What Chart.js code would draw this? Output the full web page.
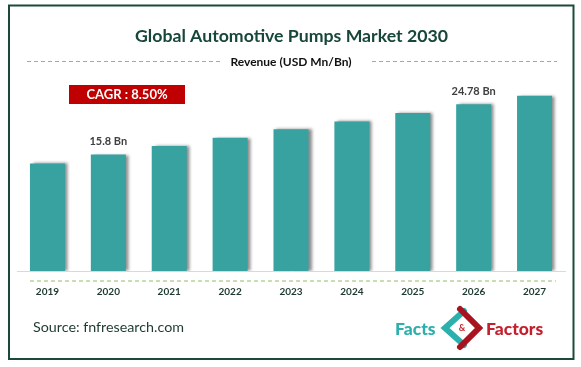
<!DOCTYPE html>
<html>
<head>
<meta charset="utf-8">
<script src="https://cdn.jsdelivr.net/npm/chart.js@4"></script>
<style>
  html, body { margin: 0; padding: 0; background: #fff; }
  #wrap { width: 581px; height: 367px; }
</style>
</head>
<body>
<div id="wrap"><canvas id="chart" width="581" height="367"></canvas></div>
<script>
// datos
const years = ['2019', '2020', '2021', '2022', '2023', '2024', '2025', '2026', '2027'];
const revenue = [14.2, 15.8, 17.3, 18.8, 20.3, 21.7, 23.2, 24.78, 26.3];
const barLabels = ['', '15.8 Bn', '', '', '', '', '', '24.78 Bn', ''];
const title = 'Global Automotive Pumps Market 2030';
const subtitle = 'Revenue (USD Mn/Bn)';
const cagrText = 'CAGR : 8.50%';
const sourceText = 'Source: fnfresearch.com';

const FONT = 'Lato, "Open Sans", sans-serif';
const DARK = '#17463a';
const Y_MIN = -5;

function dashed(ctx, x1, x2, y) {
    ctx.save();
    ctx.strokeStyle = '#8cc06a';
    ctx.lineWidth = 1;
    ctx.setLineDash([4, 3]);
    ctx.beginPath();
    ctx.moveTo(x1, y);
    ctx.lineTo(x2, y);
    ctx.stroke();
    ctx.restore();
}

/* sombra gris a la derecha de cada barra */
const shadowPlugin = {
    id: 'barShadow',
    beforeDatasetsDraw(chart) {
        const ctx = chart.ctx;
        ctx.save();
        ctx.shadowColor = 'rgba(0,0,0,0.45)';
        ctx.shadowOffsetX = 3;
        ctx.shadowOffsetY = 0;
        ctx.shadowBlur = 3;
    },
    afterDatasetsDraw(chart) {
        chart.ctx.restore();
    }
};

/* textos, marco y logo */
const decorPlugin = {
    id: 'decor',
    afterDraw(chart) {
        const ctx = chart.ctx;
        const meta = chart.getDatasetMeta(0);

        // etiquetas de las barras
        ctx.save();
        ctx.fillStyle = '#404040';
        ctx.font = 'bold 11px ' + FONT;
        ctx.textAlign = 'center';
        ctx.textBaseline = 'middle';
        meta.data.forEach((bar, i) => {
            if (barLabels[i]) ctx.fillText(barLabels[i], bar.x, bar.y - 13);
        });
        ctx.restore();

        // marco
        ctx.save();
        ctx.strokeStyle = '#1b4a3a';
        ctx.lineWidth = 2;
        ctx.strokeRect(9, 5.5, 564.5, 353.5);
        ctx.restore();

        // titulo y subtitulo
        ctx.save();
        ctx.textAlign = 'center';
        ctx.textBaseline = 'middle';
        ctx.fillStyle = DARK;
        ctx.font = 'bold 17.7px ' + FONT;
        ctx.fillText(title, 291.5, 36);
        ctx.fillStyle = '#111';
        ctx.font = 'bold 12px ' + FONT;
        ctx.fillText(subtitle, 291, 62);
        ctx.restore();
        dashed(ctx, 27, 220, 61.5);
        dashed(ctx, 372, 557, 61.5);

        // linea verde bajo el eje
        dashed(ctx, chart.chartArea.left + 13, chart.chartArea.right - 9, chart.chartArea.bottom + 10);

        // CAGR
        ctx.save();
        ctx.fillStyle = '#c00000';
        ctx.fillRect(69, 85, 116, 19);
        ctx.fillStyle = '#fff';
        ctx.font = 'bold 13px ' + FONT;
        ctx.textAlign = 'center';
        ctx.textBaseline = 'middle';
        ctx.fillText(cagrText, 127, 95);
        ctx.restore();

        // fuente
        ctx.save();
        ctx.fillStyle = '#1e3a30';
        ctx.font = '14.3px ' + FONT;
        ctx.textBaseline = 'middle';
        ctx.fillText(sourceText, 33, 327);
        ctx.restore();

        // logo
        ctx.save();
        ctx.font = '900 17.5px ' + FONT;
        ctx.textBaseline = 'middle';
        ctx.fillStyle = '#2bb0ad';
        ctx.fillText('Facts', 395, 329);
        ctx.fillStyle = '#c41f2c';
        ctx.fillText('Factors', 486, 329);
        const cx = 462, cy = 328, r = 17;
        ctx.lineWidth = 6;
        ctx.lineCap = 'round';
        ctx.strokeStyle = '#2bb0ad';
        ctx.beginPath();
        ctx.moveTo(cx + 2, cy - r);
        ctx.lineTo(cx - r, cy);
        ctx.lineTo(cx + 2, cy + r);
        ctx.stroke();
        ctx.strokeStyle = '#a8131f';
        ctx.beginPath();
        ctx.moveTo(cx - 2, cy - r - 2);
        ctx.lineTo(cx + r, cy);
        ctx.lineTo(cx - 2, cy + r + 2);
        ctx.stroke();
        ctx.fillStyle = '#c41f2c';
        ctx.font = 'bold 9px ' + FONT;
        ctx.textAlign = 'center';
        ctx.fillText('&', cx, cy);
        ctx.restore();
    }
};

const dataChart = new Chart(
    document.getElementById('chart'),
    {
    type: 'bar',
    data: {
        labels: years,
        datasets: [
        {
            data: revenue,
            base: Y_MIN,
            backgroundColor: '#37a29f',
            barPercentage: 0.575,
            categoryPercentage: 1
        }
        ]
    },
    options: {
        responsive: false,
        animation: false,
        layout: {
            padding: { top: 75, bottom: 54, left: 17, right: 16 }
        },
        plugins: {
            legend: { display: false },
            tooltip: { enabled: false }
        },
        scales: {
            x: {
                grid: { display: false, drawTicks: false },
                border: { display: true, color: '#d9d9d9', width: 1 },
                ticks: {
                    color: '#1e3a30',
                    padding: 15,
                    font: { family: FONT, size: 10, weight: 'bold' }
                }
            },
            y: {
                display: false,
                min: Y_MIN,
                max: 30
            }
        }
    },
    plugins: [shadowPlugin, decorPlugin]
    }
);
</script>
</body>
</html>
